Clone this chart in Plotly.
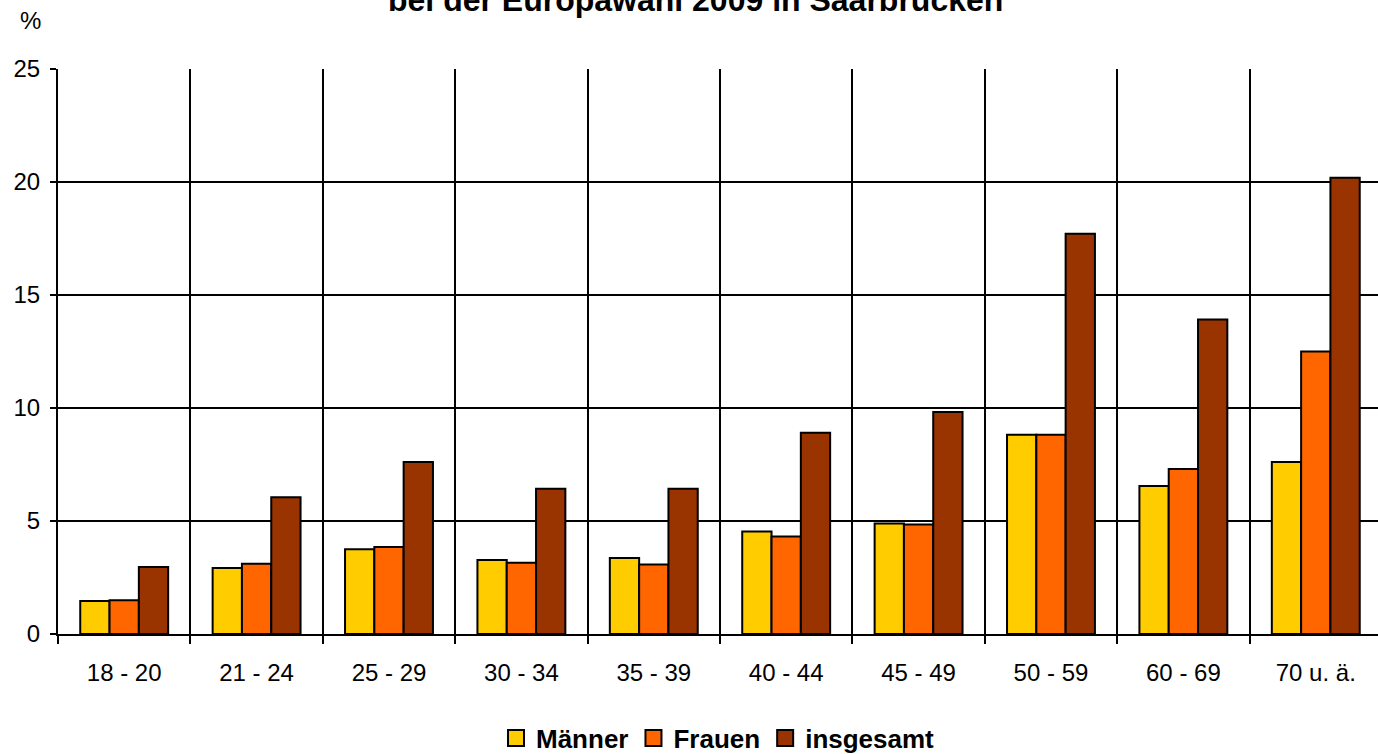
import plotly.graph_objects as go

# Altersgruppen und Anteile in %
altersgruppen = ["18 - 20", "21 - 24", "25 - 29", "30 - 34", "35 - 39",
                 "40 - 44", "45 - 49", "50 - 59", "60 - 69", "70 u. ä."]
maenner = [1.46, 2.92, 3.75, 3.27, 3.36, 4.53, 4.89, 8.82, 6.55, 7.61]
frauen = [1.49, 3.11, 3.85, 3.15, 3.07, 4.31, 4.84, 8.82, 7.30, 12.50]
insgesamt = [2.96, 6.05, 7.61, 6.43, 6.43, 8.91, 9.82, 17.71, 13.92, 20.19]

serien = [("Männer", maenner, "#FFCC00"),
          ("Frauen", frauen, "#FF6600"),
          ("insgesamt", insgesamt, "#993300")]

fig = go.Figure()
for name, werte, farbe in serien:
    fig.add_trace(go.Bar(x=altersgruppen, y=werte, name=name, showlegend=False,
                         marker=dict(color=farbe, line=dict(color="black", width=2))))
# Legende mit groesseren Kaestchen
for name, werte, farbe in serien:
    fig.add_trace(go.Scatter(x=[None], y=[None], mode="markers", name=name,
                             marker=dict(symbol="square", size=18, color=farbe,
                                         line=dict(color="black", width=2))))

fig.update_layout(
    width=1378, height=754,
    margin=dict(l=58, r=0, t=69, b=120, autoexpand=False),
    paper_bgcolor="white", plot_bgcolor="white",
    font=dict(family="Liberation Sans, Arial", size=24, color="black"),
    barmode="group", bargap=0.336, bargroupgap=0,
    legend=dict(orientation="h", x=0.5, xanchor="center",
                yref="container", y=0.021, yanchor="middle",
                font=dict(size=26, family="Liberation Sans, Arial", weight="bold"),
                itemwidth=30, traceorder="normal", tracegroupgap=0),
)

fig.update_xaxes(type="category", range=[-0.5, 9.47], tickson="boundaries",
                 showgrid=True, gridcolor="black", gridwidth=2,
                 showline=True, linecolor="black", linewidth=2,
                 ticks="outside", ticklen=8, tickwidth=2, tickcolor="black",
                 ticklabelstandoff=16)
fig.update_yaxes(range=[0, 25], dtick=5,
                 showgrid=True, gridcolor="black", gridwidth=2,
                 showline=True, linecolor="black", linewidth=2,
                 ticks="outside", ticklen=6, tickwidth=2, tickcolor="black",
                 zeroline=False, ticklabelstandoff=5)

fig.add_annotation(text="<b>bei der Europawahl 2009 in Saarbrücken</b>",
                   xref="paper", yref="paper", x=0.4826, y=1.122,
                   xanchor="center", yanchor="middle", showarrow=False,
                   font=dict(size=32))
fig.add_annotation(text="%", xref="paper", yref="paper", x=-0.021, y=1.086,
                   xanchor="center", yanchor="middle", showarrow=False,
                   font=dict(size=24))

fig.write_html("out.html", config={"displayModeBar": False},
               post_script="document.body.style.margin = '0';")
